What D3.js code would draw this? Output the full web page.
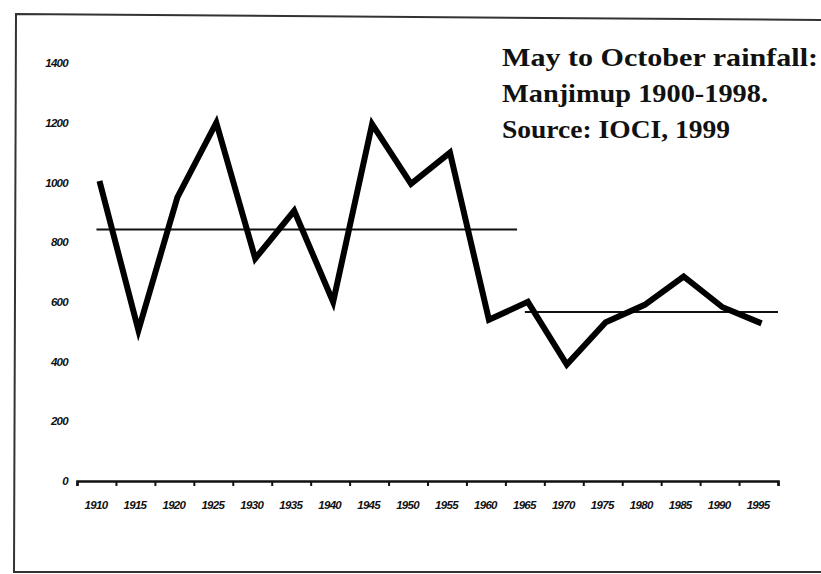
<!DOCTYPE html>
<html>
<head>
<meta charset="utf-8">
<script src="https://cdn.jsdelivr.net/npm/d3@7"></script>
<style>
  body { margin: 0; background: #fff; }
  svg { display: block; }
  .tick text { font-family: "Liberation Sans", Arial, sans-serif; font-weight: bold; font-style: italic; fill: #111; }
</style>
</head>
<body>
<svg id="chart" width="821" height="574"></svg>
<script>
const width = 821;
const height = 574;

// rainfall, May to October (mm)
const years = [1910, 1915, 1920, 1925, 1930, 1935, 1940, 1945, 1950, 1955,
  1960, 1965, 1970, 1975, 1980, 1985, 1990, 1995];
const rainfall = [1005, 505, 950, 1200, 745, 905, 600, 1195, 995, 1100,
  540, 600, 390, 532, 590, 685, 582, 528];

// the two period averages
const meanStart = [1910, 1965];
const meanEnd = [1964, 1997.5];
const meanValue = [842, 566];

const yTicks = [0, 200, 400, 600, 800, 1000, 1200, 1400];
const xTicks = [1907.5, 1912.5, 1917.5, 1922.5, 1927.5, 1932.5, 1937.5, 1942.5, 1947.5,
  1952.5, 1957.5, 1962.5, 1967.5, 1972.5, 1977.5, 1982.5, 1987.5, 1992.5, 1997.5];

const titleLines = ["May to October rainfall:", "Manjimup 1900-1998.", "Source: IOCI, 1999"];

const svg = d3.select("#chart");

// scanned page frame
svg.append("path")
  .attr("d", "M821,20 L16,14 L14,572 L821,572")
  .attr("fill", "none")
  .attr("stroke", "#333")
  .attr("stroke-width", 2);

const x = d3.scaleLinear().domain([1907.5, 1997.5]).range([77, 778]);
const y = d3.scaleLinear().domain([0, 1400]).range([481, 63]);

// x axis line with ticks between the year labels
const xAxis = svg.append("g")
  .attr("transform", `translate(0,${y(0)})`)
  .call(d3.axisBottom(x).tickValues(xTicks).tickFormat("").tickSize(5).tickSizeOuter(5));
xAxis.select(".domain").attr("stroke", "#111").attr("stroke-width", 2.5);
xAxis.selectAll(".tick line").attr("stroke", "#111").attr("stroke-width", 2);

// year labels
const xLab = svg.append("g")
  .attr("transform", `translate(0,${y(0) + 25})`)
  .call(d3.axisBottom(x).tickValues(years).tickFormat(d3.format("d")).tickSize(0));
xLab.select(".domain").remove();
xLab.selectAll("text").style("font-size", "11.5px").attr("dy", 0).attr("dx", -1).attr("letter-spacing", -0.7);

// y labels
const yLab = svg.append("g")
  .attr("transform", "translate(68,0)")
  .call(d3.axisLeft(y).tickValues(yTicks).tickFormat(d3.format("d")).tickSize(0));
yLab.select(".domain").remove();
yLab.selectAll("text").style("font-size", "11.5px").attr("x", 0).attr("letter-spacing", -0.7);

// average lines
svg.append("g").selectAll("line")
  .data(meanValue)
  .join("line")
  .attr("x1", (d, i) => x(meanStart[i]))
  .attr("x2", (d, i) => x(meanEnd[i]))
  .attr("y1", (d) => y(d))
  .attr("y2", (d) => y(d))
  .attr("stroke", "#111")
  .attr("stroke-width", 2);

// rainfall line
const line = d3.line()
  .x((d, i) => x(years[i]) + 3)
  .y((d) => y(d));

svg.append("path")
  .datum(rainfall)
  .attr("d", line)
  .attr("fill", "none")
  .attr("stroke", "#000")
  .attr("stroke-width", 6)
  .attr("stroke-linejoin", "miter")
  .attr("stroke-linecap", "butt");

// title block
const lens = [316, 266, 228];
svg.append("g").selectAll("text")
  .data(titleLines)
  .join("text")
  .attr("x", 502)
  .attr("y", (d, i) => 66 + i * 36)
  .attr("textLength", (d, i) => lens[i])
  .attr("lengthAdjust", "spacingAndGlyphs")
  .attr("font-family", "'Liberation Serif', 'Times New Roman', serif")
  .attr("font-weight", "bold")
  .attr("font-size", 25)
  .attr("fill", "#111")
  .text((d) => d);
</script>
</body>
</html>
